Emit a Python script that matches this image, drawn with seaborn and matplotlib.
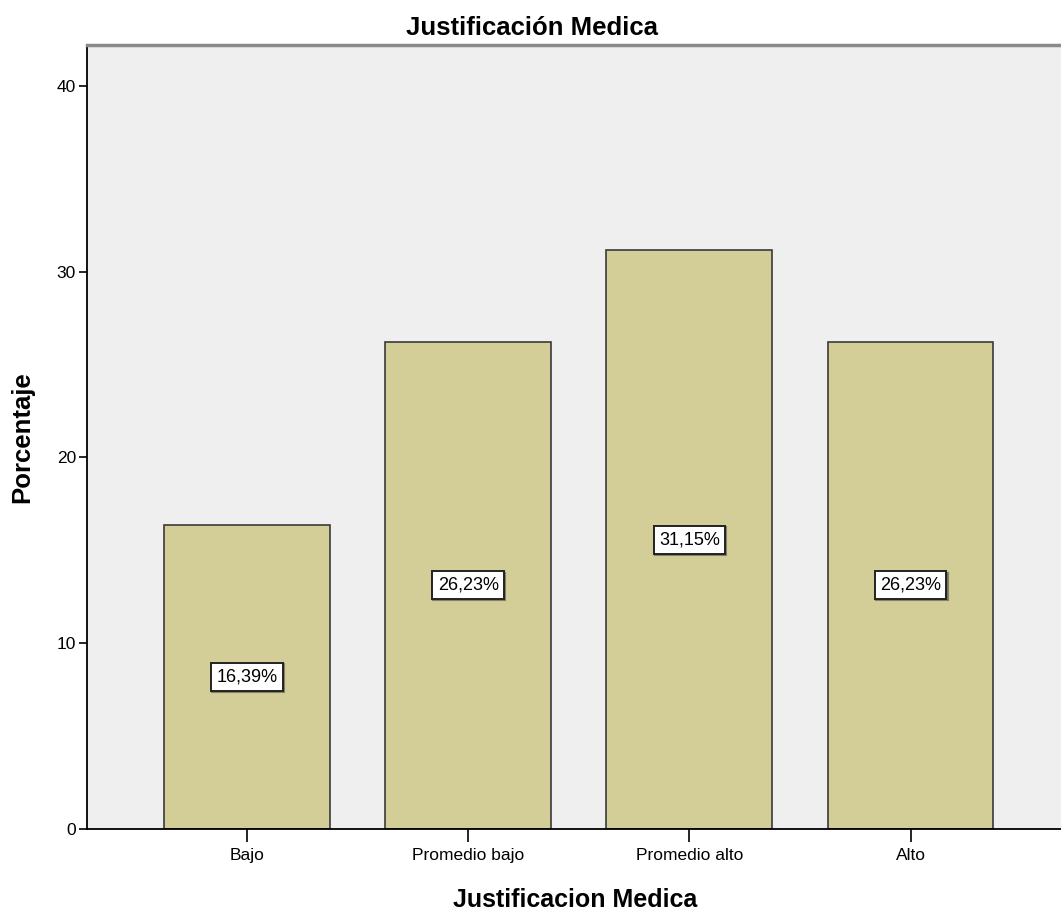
import matplotlib
matplotlib.use("Agg")
import matplotlib.pyplot as plt
import seaborn as sns
import pandas as pd

categories = ["Bajo", "Promedio bajo", "Promedio alto", "Alto"]
percentages = [16.39, 26.23, 31.15, 26.23]
value_labels = ["16,39%", "26,23%", "31,15%", "26,23%"]
y_ticks = [0, 10, 20, 30, 40]

sns.set_style("white")
plt.rcParams["font.family"] = ["Liberation Sans", "DejaVu Sans"]
plt.rcParams["text.color"] = "black"
plt.rcParams["axes.labelcolor"] = "black"
plt.rcParams["xtick.color"] = "black"
plt.rcParams["ytick.color"] = "black"

df = pd.DataFrame({"categoria": categories, "porcentaje": percentages})

fig = plt.figure(figsize=(10.61, 9.11), dpi=100)
ax = fig.add_axes([87 / 1061, 82 / 911, 1 - 87 / 1061 + 0.002, (829 - 45) / 911])
ax.set_facecolor("#efefef")

sns.barplot(data=df, x="categoria", y="porcentaje", order=categories,
            color="#d3ce97", saturation=1, width=0.75,
            edgecolor="#3a3a3a", linewidth=1.2, ax=ax)

for i, (v, lab) in enumerate(zip(percentages, value_labels)):
    # soft drop shadow behind each value box
    ax.annotate(lab, (i, v / 2), xytext=(0.8, -0.8), textcoords="offset points",
                ha="center", va="center", fontsize=13, color="none",
                bbox=dict(boxstyle="square,pad=0.3", facecolor="#6f6f5a",
                          edgecolor="#6f6f5a", linewidth=1.5, alpha=0.8))
    ax.text(i, v / 2, lab, ha="center", va="center", fontsize=13, color="black",
            bbox=dict(boxstyle="square,pad=0.3", facecolor="white",
                      edgecolor="#222222", linewidth=1.4))

ax.set_xlim(-0.724, 3.69)
ax.set_ylim(0, 42.2)
ax.set_yticks(y_ticks)
ax.set_yticklabels([str(t) for t in y_ticks], fontsize=12.5)
ax.tick_params(axis="y", direction="out", length=6, width=1.2, left=True, pad=2)
ax.tick_params(axis="x", direction="out", length=9, width=1.2, bottom=True,
               labelsize=12.5, pad=5)

for side in ["left", "bottom"]:
    ax.spines[side].set_color("black")
    ax.spines[side].set_linewidth(1.3)
ax.spines["top"].set_color("#8a8a8a")
ax.spines["top"].set_linewidth(2.5)
ax.spines["right"].set_visible(False)

ax.set_xlabel("Justificacion Medica", fontsize=18, fontweight="bold", labelpad=18)
ax.set_ylabel("Porcentaje", fontsize=18.5, fontweight="bold", labelpad=16)
fig.text(532 / 1061, 1 - 28 / 911, "Justificación Medica", ha="center", va="center",
         fontsize=18.5, fontweight="bold")

fig.savefig("out.png", dpi=100)
